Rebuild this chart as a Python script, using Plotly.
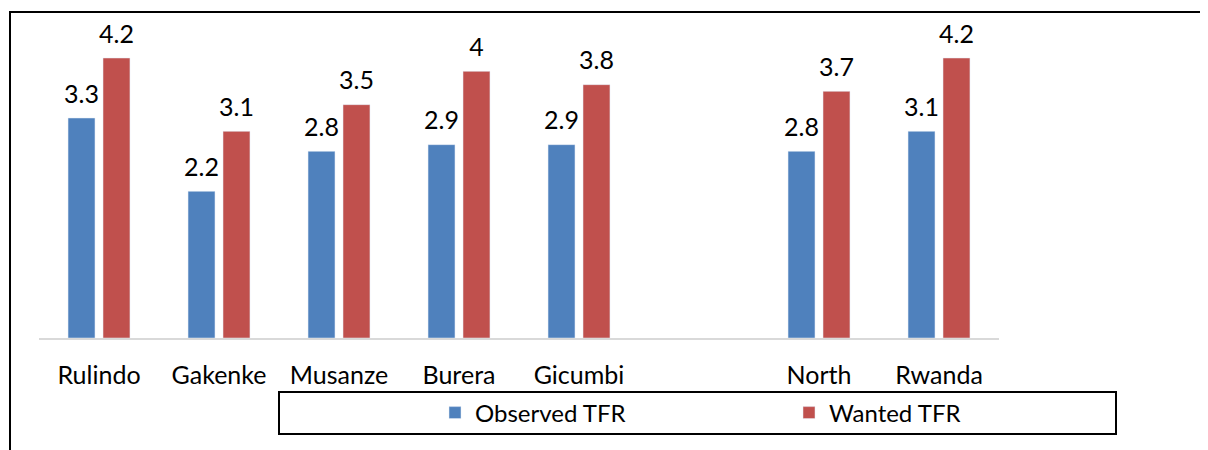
import plotly.graph_objects as go

# districts, with an empty slot between Gicumbi and North
districts = ["Rulindo", "Gakenke", "Musanze", "Burera", "Gicumbi", " ", "North", "Rwanda"]
observed_tfr = [3.3, 2.2, 2.8, 2.9, 2.9, None, 2.8, 3.1]
wanted_tfr = [4.2, 3.1, 3.5, 4.0, 3.8, None, 3.7, 4.2]

BLUE = "#4f81bd"
RED = "#c0504d"
FONT = "Lato, Carlito, Calibri, sans-serif"

# the page has an 8px body margin, so the figure is drawn 8px smaller
OFF = 8
W, H = 1208 - OFF, 450 - OFF
# plot area in page pixels: x 39..999, y 38..338
L, R, T, B = 39, 999, 38, 338


def px_x(v):
    return (v - L) / (R - L)


def px_y(v):
    return (B - v) / (B - T)


def label(vals):
    # value in a big span, plus a short blank line to lift it off the bar
    return ["" if v is None else f"<span style='font-size:25px'>{v:g}</span><br> " for v in vals]


fig = go.Figure()
fig.add_trace(go.Bar(
    name="Observed TFR", x=districts, y=observed_tfr,
    marker_color=BLUE, text=label(observed_tfr), textposition="outside",
    textfont=dict(size=8, color="black"), cliponaxis=False, constraintext="none"
))
fig.add_trace(go.Bar(
    name="Wanted TFR", x=districts, y=wanted_tfr,
    marker_color=RED, text=label(wanted_tfr), textposition="outside",
    textfont=dict(size=8, color="black"), cliponaxis=False, constraintext="none"
))

fig.update_layout(
    width=W, height=H,
    margin=dict(l=L - OFF, r=W - (R - OFF), t=T - OFF, b=H - (B - OFF), autoexpand=False),
    paper_bgcolor="white", plot_bgcolor="white",
    font=dict(family=FONT, size=24, color="black"),
    barmode="group", bargap=0.417, bargroupgap=0.23,
    showlegend=True,
    legend=dict(
        orientation="h", x=px_x(435), y=px_y(413), xanchor="left", yanchor="middle",
        entrywidth=309, entrywidthmode="pixels",
        font=dict(size=24), bgcolor="rgba(0,0,0,0)", itemclick=False
    ),
    xaxis=dict(
        showline=True, linecolor="#d9d9d9", linewidth=2, showgrid=False,
        ticks="", ticklabelstandoff=14, tickfont=dict(size=25, color="black")
    ),
    yaxis=dict(range=[0, 4.5], visible=False, showgrid=False, zeroline=False),
    shapes=[
        # outer frame (cropped on the right and bottom)
        dict(type="rect", xref="paper", yref="paper",
             x0=px_x(10), x1=px_x(1215), y0=px_y(12), y1=px_y(460),
             line=dict(color="black", width=2), fillcolor="rgba(0,0,0,0)"),
        # legend box
        dict(type="rect", xref="paper", yref="paper",
             x0=px_x(279), x1=px_x(1116), y0=px_y(392), y1=px_y(434),
             line=dict(color="black", width=2), fillcolor="rgba(0,0,0,0)"),
    ],
)

fig.write_html("out.html")
